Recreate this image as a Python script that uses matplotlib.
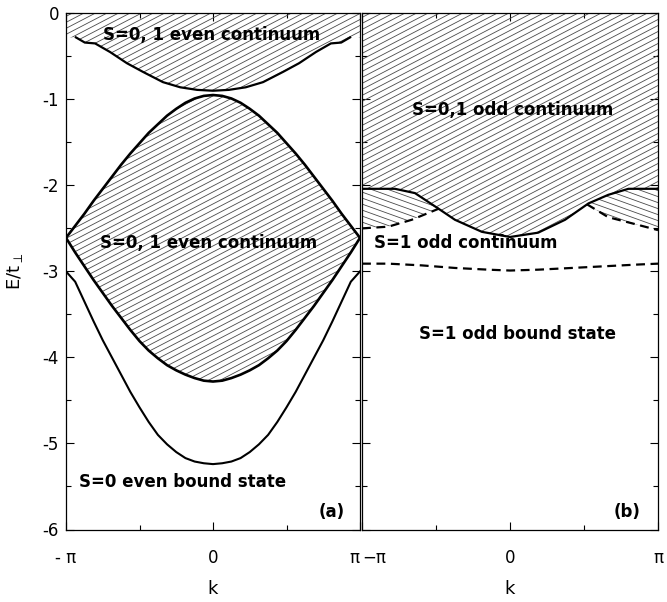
import numpy as np
import matplotlib
matplotlib.use("Agg")
import matplotlib.pyplot as plt
from matplotlib.collections import LineCollection

PI = np.pi

# ---------------- data ----------------
# panel (a): upper S=0,1 even continuum, lower boundary
k_a_top = np.array([-2.93, -2.74, -2.52, -2.20, -1.84, -1.50, -1.07, -0.70, -0.34, 0.0,
                    0.34, 0.70, 1.07, 1.50, 1.84, 2.20, 2.52, 2.74, 2.93])
E_a_top = np.array([-0.28, -0.34, -0.35, -0.45, -0.58, -0.68, -0.80, -0.86, -0.89, -0.90,
                    -0.89, -0.86, -0.80, -0.68, -0.58, -0.45, -0.35, -0.34, -0.28])

# panel (a): k positions in units of pi (steps of 1/16)
k_a_frac = np.array([-16, -15, -14, -13, -12, -11, -10, -9, -8, -7, -6, -5, -4, -3, -2, -1, 0,
                     1, 2, 3, 4, 5, 6, 7, 8, 9, 10, 11, 12, 13, 14, 15, 16]) / 16
# middle S=0,1 even continuum, upper edge
E_a_mid_up = np.array([-2.61, -2.47, -2.33, -2.18, -2.04, -1.90, -1.76, -1.63, -1.51,
                       -1.39, -1.29, -1.19, -1.11, -1.04, -0.99, -0.96, -0.95,
                       -0.96, -0.99, -1.04, -1.11, -1.19, -1.29, -1.39, -1.51,
                       -1.63, -1.76, -1.90, -2.04, -2.18, -2.33, -2.47, -2.61])
# middle S=0,1 even continuum, lower edge
E_a_mid_lo = np.array([-2.61, -2.78, -2.94, -3.10, -3.25, -3.40, -3.54, -3.68, -3.81,
                       -3.92, -4.01, -4.09, -4.15, -4.20, -4.24, -4.27, -4.28,
                       -4.27, -4.24, -4.20, -4.15, -4.09, -4.01, -3.92, -3.81,
                       -3.68, -3.54, -3.40, -3.25, -3.10, -2.94, -2.78, -2.61])
# S=0 even bound state
E_a_bound = np.array([-3.00, -3.12, -3.35, -3.58, -3.80, -4.00, -4.20, -4.40, -4.58,
                      -4.75, -4.90, -5.01, -5.10, -5.17, -5.21, -5.23, -5.24,
                      -5.23, -5.21, -5.17, -5.10, -5.01, -4.90, -4.75, -4.58,
                      -4.40, -4.20, -4.00, -3.80, -3.58, -3.35, -3.12, -3.00])

# panel (b): S=0,1 odd continuum lower edge (solid)
k_b_solid_frac = np.array([-1, -0.777, -0.642, -0.484, -0.372, -0.19, 0, 0.19, 0.372, 0.53, 0.664, 0.80, 1])
E_b_solid = np.array([-2.04, -2.04, -2.09, -2.27, -2.40, -2.54, -2.60, -2.55, -2.40, -2.21, -2.11, -2.04, -2.04])

# panel (b): S=1 odd continuum upper edge (dashed), outer parts
k_b_dash_l_frac = np.array([-1, -0.822, -0.664, -0.48])
E_b_dash_l = np.array([-2.50, -2.48, -2.40, -2.27])
k_b_dash_r_frac = np.array([0.52, 0.664, 0.822, 1])
E_b_dash_r = np.array([-2.22, -2.37, -2.44, -2.52])

# panel (b): S=1 odd bound state (dashed)
k_b_bound_frac = np.array([-1, -0.822, -0.597, -0.372, -0.146, 0, 0.19, 0.417, 0.642, 0.867, 1])
E_b_bound = np.array([-2.91, -2.91, -2.93, -2.96, -2.98, -2.99, -2.98, -2.96, -2.94, -2.92, -2.91])

yticks = [0, -1, -2, -3, -4, -5, -6]
xtick_labels_a = ['- π', '0', 'π']
xtick_labels_b = ['−π', '0', 'π']

# ---------------- figure ----------------
FW, FH = 667, 602
fig = plt.figure(figsize=(FW / 100, FH / 100), dpi=100)
bottom = 1 - 529.5 / FH
height = 516.2 / FH
ax1 = fig.add_axes([66 / FW, bottom, 294 / FW, height])
ax2 = fig.add_axes([362 / FW, bottom, 296 / FW, height])

hatch_col = '#4a4a4a'


def hatch_region(ax, kx, lower, upper, slope_px, spacing_px):
    poly = ax.fill_between(kx, lower, upper, facecolor='none', edgecolor='none', linewidth=0)
    pos = ax.get_position()
    w = pos.width * FW
    h = pos.height * FH
    m = slope_px * w / h
    dy = spacing_px / h
    cs = np.arange(-abs(m) - dy, 1 + abs(m) + dy, dy)
    segs = [[(0, c), (1, c + m)] for c in cs]
    lc = LineCollection(segs, transform=ax.transAxes, colors=hatch_col, linewidths=0.6)
    ax.add_collection(lc, autolim=False)
    lc.set_clip_path(poly.get_paths()[0], ax.transData)


# ---- panel (a) ----
k_a = k_a_frac * PI
k_top_fill = np.r_[-PI, k_a_top, PI]
E_top_fill = np.r_[E_a_top[0], E_a_top, E_a_top[-1]]
hatch_region(ax1, k_top_fill, E_top_fill, np.zeros_like(E_top_fill), 0.52, 6.0)
hatch_region(ax1, k_a, E_a_mid_lo, E_a_mid_up, 0.52, 6.0)

ax1.plot(k_a_top, E_a_top, color='black', lw=1.6)
ax1.plot(k_a, E_a_mid_up, color='black', lw=1.9)
ax1.plot(k_a, E_a_mid_lo, color='black', lw=1.9)
ax1.plot(k_a, E_a_bound, color='black', lw=1.5)

# ---- panel (b) ----
k_bs = k_b_solid_frac * PI
hatch_region(ax2, k_bs, E_b_solid, np.zeros_like(E_b_solid), 0.52, 6.0)
for kd_frac, Ed in ((k_b_dash_l_frac, E_b_dash_l), (k_b_dash_r_frac, E_b_dash_r)):
    kk = np.union1d(kd_frac, k_b_solid_frac[(k_b_solid_frac >= kd_frac.min()) & (k_b_solid_frac <= kd_frac.max())])
    lo = np.interp(kk, kd_frac, Ed)
    up = np.interp(kk, k_b_solid_frac, E_b_solid)
    hatch_region(ax2, kk * PI, lo, up, -0.36, 6.0)

ax2.plot(k_bs, E_b_solid, color='black', lw=1.6)
ax2.plot(k_b_dash_l_frac * PI, E_b_dash_l, color='black', lw=1.6, ls=(0, (4, 2.5)))
ax2.plot(k_b_dash_r_frac * PI, E_b_dash_r, color='black', lw=1.6, ls=(0, (4, 2.5)))
ax2.plot(k_b_bound_frac * PI, E_b_bound, color='black', lw=1.6, ls=(0, (4, 2.5)))

# ---- axes styling ----
for ax, labs in ((ax1, xtick_labels_a), (ax2, xtick_labels_b)):
    ax.set_xlim(-PI, PI)
    ax.set_ylim(-6, 0)
    ax.set_yticks(yticks)
    ax.set_yticks(np.arange(-5.5, 0, 1.0), minor=True)
    ax.set_xticks([-PI, 0, PI])
    ax.set_xticklabels(labs)
    ax.set_xticks([-PI / 2, PI / 2], minor=True)
    ax.tick_params(which='both', direction='in', top=True, right=True, colors='black')
    ax.tick_params(which='major', length=6, width=0.8)
    ax.tick_params(which='minor', length=3.5, width=0.8)
    ax.tick_params(axis='x', which='major', pad=14, labelsize=12)
    ax.tick_params(axis='y', which='major', pad=5, labelsize=12)
    for sp in ax.spines.values():
        sp.set_linewidth(0.9)
    ax.set_xlabel('k', fontsize=13)
    ax.xaxis.set_label_coords(0.5, -0.098)

ax1.set_yticklabels([str(v) for v in yticks])
ax2.tick_params(labelleft=False)
ax1.get_xticklabels()[2].set_horizontalalignment('right')
ax2.get_xticklabels()[0].set_horizontalalignment('left')

ax1.set_ylabel(r'E/t$_{\perp}$', fontsize=13)
ax1.yaxis.set_label_coords(-0.14, 0.5)

tkw = dict(fontsize=12, fontweight='bold', color='black')
ax1.text(-0.04, -0.25, 'S=0, 1 even continuum', ha='center', va='center', **tkw)
ax1.text(-0.10, -2.67, 'S=0, 1 even continuum', ha='center', va='center', **tkw)
ax1.text(-2.86, -5.45, 'S=0 even bound state', ha='left', va='center', **tkw)
ax1.text(2.82, -5.80, '(a)', ha='right', va='center', **tkw)

ax2.text(0.06, -1.12, 'S=0,1 odd continuum', ha='center', va='center', **tkw)
ax2.text(-0.93, -2.67, 'S=1 odd continuum', ha='center', va='center', **tkw)
ax2.text(0.15, -3.73, 'S=1 odd bound state', ha='center', va='center', **tkw)
ax2.text(2.76, -5.80, '(b)', ha='right', va='center', **tkw)

fig.savefig('out.png', dpi=100)
